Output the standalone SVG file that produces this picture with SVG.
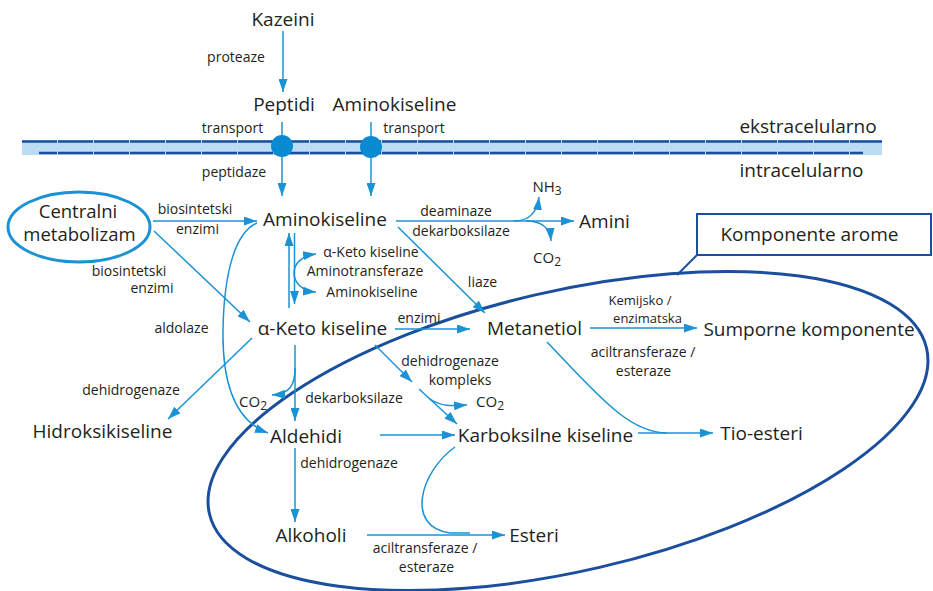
<svg xmlns="http://www.w3.org/2000/svg" width="933" height="591" viewBox="0 0 933 591">
  <style>
    .t { font-family: "Open Sans", "Noto Sans", sans-serif; fill: #231f20; text-anchor: middle; }
    .big { font-size: 19px; }
    .sm { font-size: 14px; }
    .xs { font-size: 13px; }
    .c { fill: none; stroke: #1a92d4; stroke-width: 1.5; }
    .a { marker-end: url(#ah); }
    .dark { fill: none; stroke: #1b4f9e; }
  </style>
  <defs>
    <marker id="ah" viewBox="0 0 13 9" refX="13" refY="4.5" markerUnits="userSpaceOnUse" markerWidth="13" markerHeight="9" orient="auto-start-reverse">
      <path d="M0,0 L13,4.5 L0,9 z" fill="#1a92d4"/>
    </marker>
  </defs>
  <rect width="933" height="591" fill="#ffffff"/>

  <!-- cell membrane -->
  <g id="membrane">
    <rect x="22" y="140" width="860" height="15" fill="#bcdcf4"/>
    <line x1="22" y1="141.5" x2="882" y2="141.5" stroke="#1b4f9e" stroke-width="2.5" stroke-dasharray="35 1"/>
    <line x1="39" y1="153" x2="863" y2="153" stroke="#1b4f9e" stroke-width="2.5" stroke-dasharray="35 1" stroke-dashoffset="17"/>
    <text class="t big" x="808" y="133">ekstracelularno</text>
    <text class="t big" x="801.5" y="177">intracelularno</text>
  </g>

  <!-- aroma compounds region -->
  <g id="aroma-region">
    <ellipse class="dark" cx="568" cy="431" rx="368" ry="140" transform="rotate(-13 568 431)" stroke-width="3"/>
    <line class="dark" x1="697" y1="255" x2="677" y2="275" stroke-width="2"/>
    <rect class="dark" x="697" y="214" width="234" height="41" stroke-width="2"/>
    <text class="t big" x="809.5" y="241">Komponente arome</text>
  </g>

  <!-- connectors -->
  <g id="connectors">
    <line class="c a" x1="283" y1="31" x2="283" y2="92"/>
    <line class="c a" x1="282" y1="122" x2="282" y2="196"/>
    <line class="c a" x1="371" y1="122" x2="371" y2="196"/>
    <line class="c a" x1="153" y1="221" x2="257" y2="221"/>
    <line class="c a" x1="154" y1="231" x2="250" y2="322"/>
    <path class="c a" d="M257,223 C236,232 224,270 223,330 C222,390 238,422 268,433"/>
    <line class="c a" x1="289" y1="308" x2="289" y2="233"/>
    <line class="c a" x1="294.5" y1="233" x2="294.5" y2="304"/>
    <path class="c" d="M316,254 C301,256 294,264 294,273 C294,282 301,291 316,292" marker-start="url(#ah)" marker-end="url(#ah)"/>
    <line class="c a" x1="396" y1="221" x2="574" y2="221"/>
    <path class="c a" d="M514,221 C528,221 537,214 539,197"/>
    <path class="c a" d="M526,221 C541,221 550,227 551,241"/>
    <line class="c a" x1="398" y1="227" x2="485" y2="313"/>
    <line class="c a" x1="252" y1="338" x2="168" y2="419"/>
    <line class="c a" x1="395" y1="329" x2="470" y2="329"/>
    <line class="c a" x1="295" y1="345" x2="295" y2="421"/>
    <path class="c a" d="M295,368 C295,385 290,394 272,395"/>
    <line class="c a" x1="375" y1="345" x2="412" y2="382"/>
    <line class="c a" x1="419" y1="389" x2="457" y2="424"/>
    <path class="c a" d="M430,399 C442,407 452,406 467,405"/>
    <line class="c a" x1="590" y1="328" x2="697" y2="328"/>
    <path class="c" d="M547,342 C595,392 628,433 667,433"/>
    <line class="c a" x1="638" y1="433" x2="713" y2="433"/>
    <line class="c a" x1="380" y1="435" x2="455" y2="435"/>
    <line class="c a" x1="295" y1="448" x2="295" y2="522"/>
    <path class="c" d="M455,447 C420,472 405,527 450,533 L470,533"/>
    <line class="c a" x1="367" y1="535" x2="505" y2="535"/>
  </g>

  <!-- transport proteins -->
  <g id="transporters" fill="#0a8bd1">
    <circle cx="282" cy="146" r="11"/>
    <circle cx="371" cy="147" r="11"/>
  </g>

  <!-- edge labels -->
  <g id="labels">
    <text class="t sm" x="236" y="62">proteaze</text>
    <text class="t sm" x="232.5" y="133">transport</text>
    <text class="t sm" x="414" y="133">transport</text>
    <text class="t sm" x="234" y="177">peptidaze</text>
    <text class="t sm" x="195" y="214">biosintetski</text>
    <text class="t sm" x="197.5" y="234">enzimi</text>
    <text class="t sm" x="129" y="276">biosintetski</text>
    <text class="t sm" x="152" y="293">enzimi</text>
    <text class="t sm" x="181.5" y="333">aldolaze</text>
    <text class="t sm" x="131" y="395">dehidrogenaze</text>
    <text class="t sm" x="371" y="257">α-Keto kiseline</text>
    <text class="t sm" x="365" y="276">Aminotransferaze</text>
    <text class="t sm" x="372" y="297">Aminokiseline</text>
    <text class="t sm" x="456" y="216">deaminaze</text>
    <text class="t sm" x="461" y="236">dekarboksilaze</text>
    <text class="t sm" x="482.5" y="287">liaze</text>
    <text class="t sm" x="419" y="323">enzimi</text>
    <text class="t sm" x="450" y="366">dehidrogenaze</text>
    <text class="t sm" x="460" y="385">kompleks</text>
    <text class="t sm" x="354" y="403">dekarboksilaze</text>
    <text class="t sm" x="349" y="468">dehidrogenaze</text>
    <text class="t sm" x="425" y="553">aciltransferaze /</text>
    <text class="t sm" x="426.5" y="572">esteraze</text>
    <text class="t xs" x="640" y="305">Kemijsko /</text>
    <text class="t xs" x="647.5" y="323">enzimatska</text>
    <text class="t sm" x="643" y="357">aciltransferaze /</text>
    <text class="t sm" x="643.5" y="376">esteraze</text>
  </g>

  <!-- nodes -->
  <g id="kazeini"><text class="t big" x="283" y="26">Kazeini</text></g>
  <g id="peptidi"><text class="t big" x="284" y="111">Peptidi</text></g>
  <g id="aminokiseline-ext"><text class="t big" x="394.5" y="111">Aminokiseline</text></g>
  <g id="centralni-metabolizam">
    <ellipse cx="79" cy="227" rx="71" ry="35" fill="none" stroke="#1a92d4" stroke-width="3"/>
    <text class="t" x="78" y="218" font-size="18.5">Centralni</text>
    <text class="t" x="79.5" y="241" font-size="18.5">metabolizam</text>
  </g>
  <g id="aminokiseline"><text class="t big" x="325" y="226">Aminokiseline</text></g>
  <g id="nh3"><text class="t" x="547" y="192" font-size="15">NH<tspan dy="3" font-size="12">3</tspan></text></g>
  <g id="co2-amini"><text class="t" x="547" y="263" font-size="15">CO<tspan dy="3" font-size="12">2</tspan></text></g>
  <g id="amini"><text class="t big" x="604.5" y="228">Amini</text></g>
  <g id="alfa-keto-kiseline"><text class="t big" x="322.5" y="335">α-Keto kiseline</text></g>
  <g id="metanetiol"><text class="t big" x="534.5" y="335">Metanetiol</text></g>
  <g id="sumporne-komponente"><text class="t big" x="809" y="336">Sumporne komponente</text></g>
  <g id="hidroksikiseline"><text class="t big" x="102.5" y="438">Hidroksikiseline</text></g>
  <g id="co2-aldehidi"><text class="t" x="253" y="407" font-size="15">CO<tspan dy="3" font-size="12">2</tspan></text></g>
  <g id="co2-karboksilne"><text class="t" x="490" y="407" font-size="15">CO<tspan dy="3" font-size="12">2</tspan></text></g>
  <g id="aldehidi"><text class="t big" x="306" y="443">Aldehidi</text></g>
  <g id="karboksilne-kiseline"><text class="t big" x="545.5" y="442">Karboksilne kiseline</text></g>
  <g id="tio-esteri"><text class="t big" x="761.5" y="440">Tio-esteri</text></g>
  <g id="alkoholi"><text class="t big" x="311" y="542">Alkoholi</text></g>
  <g id="esteri"><text class="t big" x="534" y="542">Esteri</text></g>
</svg>
